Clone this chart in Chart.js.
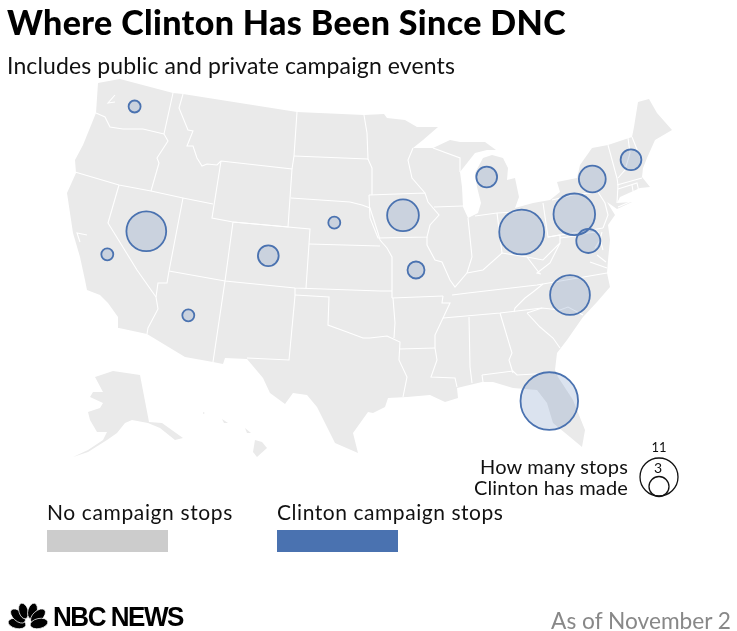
<!DOCTYPE html>
<html>
<head>
<meta charset="utf-8">
<title>Where Clinton Has Been Since DNC</title>
<script src="https://cdn.jsdelivr.net/npm/chart.js@4"></script>
<style>
  html, body { margin: 0; padding: 0; background: #fff; }
  #page { position: relative; width: 737px; height: 631px; overflow: hidden; font-family: Lato, sans-serif; color: #111; }
  #page canvas { position: absolute; left: 0; top: 0; }
  .txt { position: absolute; white-space: nowrap; line-height: 1; }
  .swatch { position: absolute; top: 530px; width: 121px; height: 22px; }
</style>
</head>
<body>
<div id="page">
  <canvas id="map" width="737" height="631"></canvas>

  <div class="txt" style="left:7px;top:5px;font-size:34px;font-weight:900;letter-spacing:.38px;color:#000">Where Clinton Has Been Since DNC</div>
  <div class="txt" style="left:7px;top:54px;font-size:23px;letter-spacing:.12px">Includes public and private campaign events</div>

  <div class="txt" style="right:109px;top:456px;font-size:20px;letter-spacing:.15px">How many stops</div>
  <div class="txt" style="right:109px;top:477px;font-size:20px;letter-spacing:.15px">Clinton has made</div>
  <div class="txt" style="left:649px;width:20px;text-align:center;top:441px;font-size:13px" id="legendBig"></div>
  <div class="txt" style="left:648px;width:20px;text-align:center;top:461px;font-size:14px" id="legendSmall"></div>

  <div class="txt" style="left:47px;top:501px;font-size:21px;letter-spacing:.62px">No campaign stops</div>
  <div class="swatch" style="left:47px;background:#cccccc"></div>
  <div class="txt" style="left:277px;top:501px;font-size:21px;letter-spacing:.55px">Clinton campaign stops</div>
  <div class="swatch" style="left:277px;background:#4a72b0"></div>

  <svg style="position:absolute;left:8px;top:603px" width="41" height="27" viewBox="0 0 41 27">
    <g fill="#000" stroke="#fff" stroke-width=".7">
      <ellipse cx="9" cy="20.5" rx="9" ry="5" transform="rotate(12 9 20.5)"/>
      <ellipse cx="10" cy="13" rx="9" ry="5" transform="rotate(42 10 13)"/>
      <ellipse cx="15.5" cy="8" rx="8" ry="4.6" transform="rotate(74 15.5 8)"/>
      <ellipse cx="24.5" cy="8" rx="8" ry="4.6" transform="rotate(106 24.5 8)"/>
      <ellipse cx="30" cy="13" rx="9" ry="5" transform="rotate(138 30 13)"/>
      <ellipse cx="31" cy="20.5" rx="9" ry="5" transform="rotate(168 31 20.5)"/>
    </g>
  </svg>
  <div class="txt" style="left:53px;top:603px;font-size:28px;font-weight:700;letter-spacing:-1.6px;color:#000;font-family:'Liberation Sans',sans-serif;transform:scaleX(.93);transform-origin:left">NBC NEWS</div>
  <div class="txt" style="right:6px;top:610px;font-size:22.7px;color:#888">As of November 2</div>
</div>

<script>
// carte : coordonnees en unites de la carte (meme repere que l'image)
const usOutline = [
  [98,83],[120,79],[173,93],[183,94],[297,112],[364,115],[384,114],[387,118],[405,120],[417,127],[438,127],
  [423,140],[413,148],[433,148],[450,140],[460,142],[485,142],[496,150],[487,150],[475,153],[460,172],
  [462,187],[463,207],[468,218],[478,213],[481,203],[477,187],[475,173],[483,158],[492,155],[503,158],
  [508,168],[507,180],[515,178],[519,197],[515,208],[533,203],[550,200],[560,192],[557,182],[577,178],
  [580,165],[592,148],[608,145],[632,137],[634,127],[638,102],[649,99],[657,113],[672,130],[655,140],
  [647,158],[643,168],[642,177],[650,187],[640,188],[620,197],[617,203],[632,202],[617,209],[607,202],
  [615,215],[608,225],[610,240],[608,260],[607,273],[610,287],[597,302],[583,317],[567,340],[557,353],
  [555,370],[558,377],[573,400],[585,430],[582,447],[570,437],[553,423],[547,403],[537,390],[513,388],
  [493,382],[482,382],[457,388],[458,398],[445,402],[430,395],[407,397],[388,398],[385,407],[373,413],
  [368,412],[353,433],[358,453],[335,443],[317,407],[307,395],[293,393],[285,404],[270,393],[263,378],
  [247,359],[225,358],[223,364],[213,362],[185,357],[147,334],[119,328],[118,317],[108,303],[100,295],
  [87,290],[85,280],[80,257],[73,233],[67,193],[76,173],[75,160],[83,145],[96,113]
];
const alaska = [
  [95,377],[113,371],[140,375],[149,422],[162,423],[183,438],[175,440],[160,428],[148,423],[132,420],
  [125,423],[117,433],[107,440],[88,452],[73,457],[88,450],[103,440],[107,432],[97,432],[90,420],
  [88,412],[100,408],[103,403],[90,397],[93,392],[103,392]
];
const hawaii = [[255,440],[262,442],[267,448],[257,457],[253,452]];
const maui = [[245,428],[251,433],[247,433]];
const oahu = [[222,419],[228,423],[224,423]];
const kauai = [[203,412],[205,413],[203,414]];

const stateLines = [
  [[96,113],[105,117],[110,127],[123,129],[143,129],[164,134]],
  [[173,93],[164,134],[168,141],[157,158],[159,163],[151,191]],
  [[183,94],[179,108],[188,130],[193,131],[187,146],[193,146],[197,158],[202,166],[207,164],[217,165],[221,161]],
  [[75,172],[119,185],[151,191],[183,198],[213,204]],
  [[221,161],[292,169],[288,227],[233,222],[212,218],[221,161]],
  [[297,112],[294,156],[292,169]],
  [[294,156],[368,159]],
  [[291,198],[350,202],[362,205],[370,208],[378,233],[380,240],[387,248],[392,257],[392,298]],
  [[364,115],[367,133],[368,159],[372,168],[372,195]],
  [[309,244],[380,246]],
  [[233,222],[310,229],[309,244],[306,288]],
  [[169,271],[225,281],[295,288],[380,291],[392,291]],
  [[233,222],[225,281],[213,362]],
  [[183,198],[169,271],[167,283],[158,283],[156,297],[158,309],[148,328],[147,334]],
  [[119,185],[108,223],[137,270],[156,297]],
  [[295,288],[295,296],[289,360],[247,358]],
  [[295,295],[329,297],[328,325],[347,332],[363,338],[370,338],[387,336],[400,342],[399,360],[407,377],[403,397]],
  [[392,298],[443,296]],
  [[393,298],[395,323],[394,338]],
  [[400,349],[435,348]],
  [[443,296],[442,303],[450,303],[443,318],[435,335],[435,348],[437,360],[431,377],[455,378],[457,387]],
  [[469,317],[470,367],[472,383]],
  [[443,318],[500,313],[542,308]],
  [[452,295],[468,293],[537,285],[607,273]],
  [[543,284],[533,292],[525,298],[515,308],[514,312]],
  [[500,313],[512,353],[509,360],[513,373]],
  [[482,375],[513,371],[517,375],[553,373]],
  [[482,375],[483,382]],
  [[527,313],[540,327],[553,338],[560,348]],
  [[527,313],[542,308],[560,310],[568,307],[583,315]],
  [[369,195],[425,193],[428,202],[439,215],[430,225],[427,237],[378,238],[370,218],[369,195]],
  [[425,193],[412,178],[408,160],[413,148]],
  [[433,148],[460,158],[460,172]],
  [[434,207],[463,206]],
  [[468,218],[472,257],[467,273]],
  [[427,237],[427,245],[435,260],[442,262],[450,280],[455,287],[467,273],[483,270],[502,253],[527,257],[540,274]],
  [[475,216],[497,213],[517,212]],
  [[497,213],[502,253]],
  [[527,257],[543,260],[560,243],[560,235],[548,237],[543,203]],
  [[548,237],[603,228]],
  [[552,200],[573,195],[598,192],[605,203],[608,215],[603,228]],
  [[560,243],[550,263],[537,273],[541,274]],
  [[560,238],[575,236],[587,233],[598,232],[603,250]],
  [[608,145],[617,178],[618,185],[617,203]],
  [[628,138],[630,153],[625,170],[618,178]],
  [[632,137],[642,162]],
  [[617,185],[642,178]],
  [[618,189],[637,183],[639,192]],
  [[632,185],[634,197]]
];
// baies et detroits, en blanc aussi
const waterLines = [
  [[115,95],[108,103],[115,102]],
  [[87,235],[77,233],[80,242]],
  [[618,207],[632,201]],
  [[590,262],[607,268]],
  [[597,255],[606,262]],
  [[595,248],[600,240],[602,232]]
];

const stopCities = ['Washington','Nevada','California','Colorado','Nebraska','Arizona','Iowa','Missouri','Michigan','Ohio','Pennsylvania','Virginia','New York','New Hampshire','North Carolina','Florida'];
const stopX = [134.6,146.3,107.3,268.3,334.3,188.3,403,416,486.7,521.7,574.3,588.3,592.3,631,570,549.3];
const stopY = [106.5,231.3,254.3,255.7,222.7,315.3,215.3,270,177,232,214.3,241,179,159.7,295,401];
const stops = [1,11,1,3,1,1,7,2,3,14,12,4,5,3,11,23];

const legendStops = [11,3];
const legendX = [659,659];
const legendY = [477,486.5];
const legendRadius = [19,10];

document.getElementById('legendBig').textContent = legendStops[0];
document.getElementById('legendSmall').textContent = legendStops[1];

const toPoints = arr => arr.map(p => ({ x: p[0], y: p[1] }));
const LAND = '#eaeaea';

function landDataset(arr) {
  return {
    type: 'line', data: toPoints(arr.concat([arr[0]])), order: 5,
    borderWidth: 0, borderColor: LAND, backgroundColor: LAND,
    fill: 'shape', pointRadius: 0, tension: 0, clip: false
  };
}
function borderDataset(arr) {
  return {
    type: 'line', data: toPoints(arr), order: 4,
    borderWidth: 1.1, borderColor: '#ffffff', backgroundColor: 'transparent',
    fill: false, pointRadius: 0, tension: 0, clip: false
  };
}

let datasets = [];
[usOutline, alaska, hawaii, maui, oahu, kauai].forEach(s => datasets.push(landDataset(s)));
stateLines.forEach(s => datasets.push(borderDataset(s)));
waterLines.forEach(s => datasets.push(borderDataset(s)));

// aire proportionnelle au nombre d'arrets
datasets.push({
  type: 'bubble', label: 'Clinton campaign stops', order: 1,
  data: stops.map((n, i) => ({ x: stopX[i], y: stopY[i], r: 6 * Math.sqrt(n) })),
  backgroundColor: 'rgba(74,114,176,0.2)', borderColor: '#4a72b0', borderWidth: 1.8,
  hoverRadius: 0, clip: false
});
datasets.push({
  type: 'bubble', label: 'How many stops', order: 1,
  data: legendStops.map((n, i) => ({ x: legendX[i], y: legendY[i], r: legendRadius[i] })),
  backgroundColor: 'transparent', borderColor: '#111', borderWidth: 1.3,
  hoverRadius: 0, clip: false
});

new Chart(document.getElementById('map').getContext('2d'), {
  type: 'bubble',
  data: { datasets: datasets },
  options: {
    responsive: false,
    animation: false,
    events: [],
    // sinon le rayon des bulles decale toute la carte
    layout: { padding: 0, autoPadding: false },
    plugins: { legend: { display: false }, tooltip: { enabled: false }, title: { display: false } },
    scales: {
      x: { type: 'linear', min: 0, max: 737, display: false },
      y: { type: 'linear', min: 0, max: 631, reverse: true, display: false }
    }
  }
});
</script>
</body>
</html>
